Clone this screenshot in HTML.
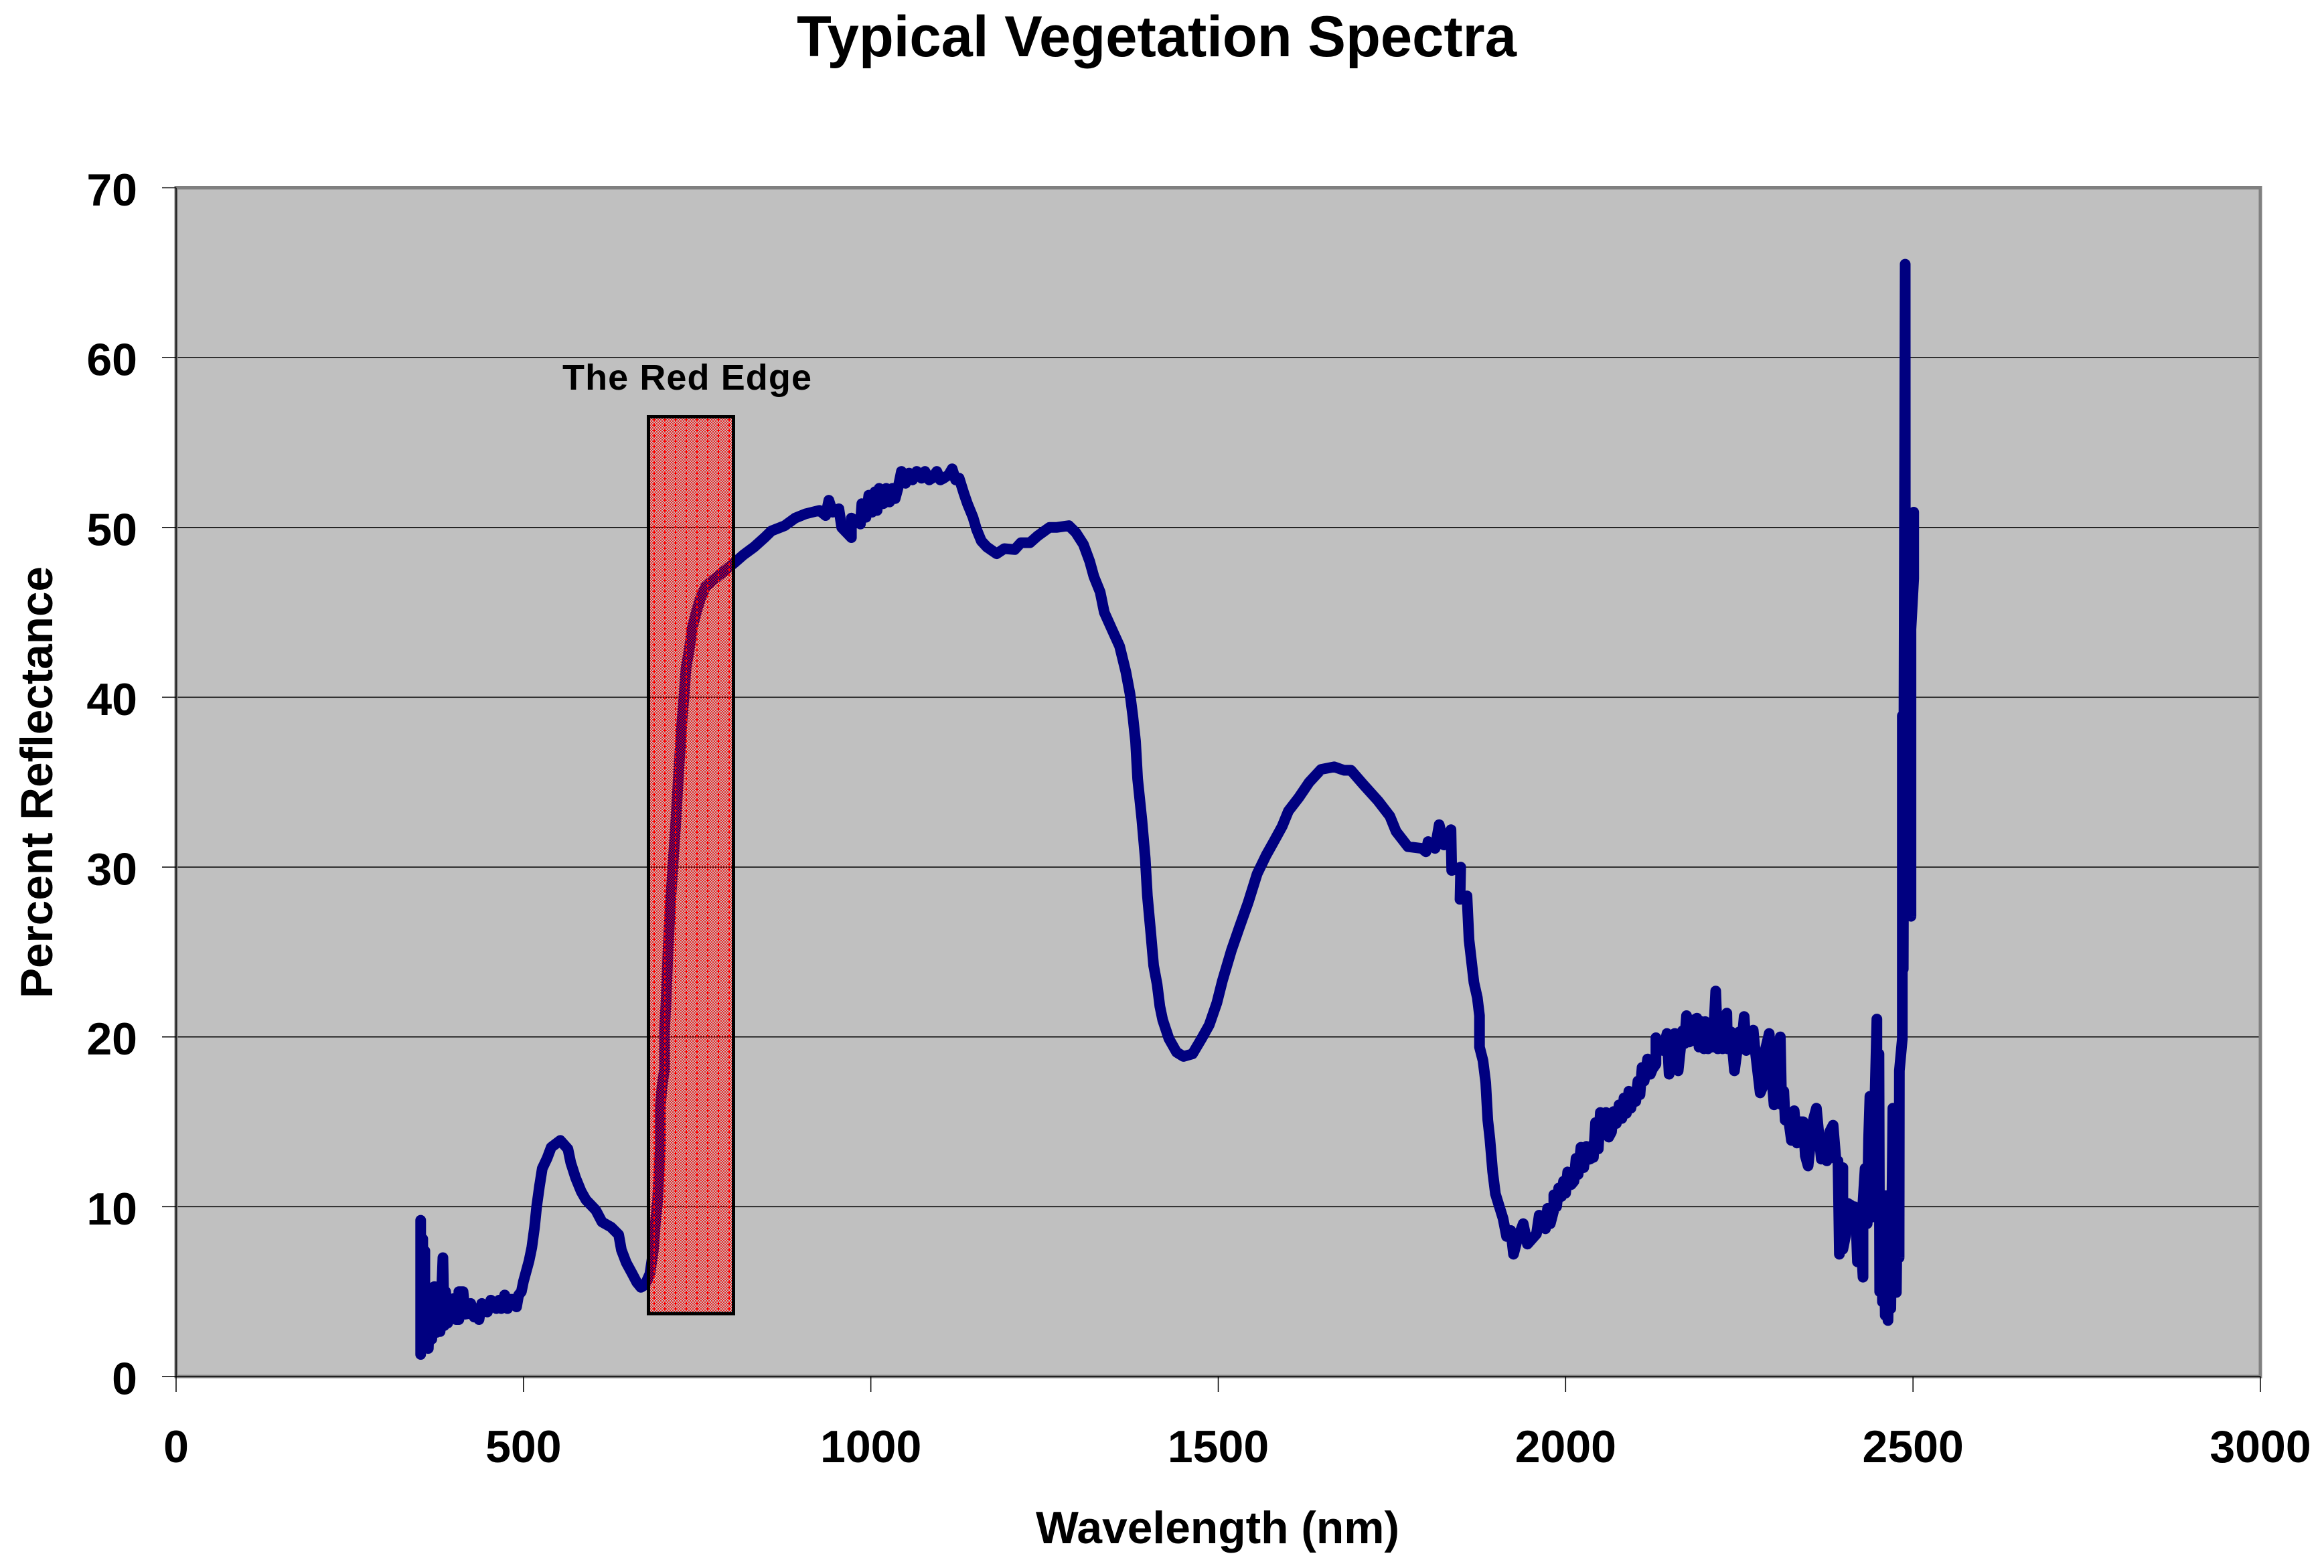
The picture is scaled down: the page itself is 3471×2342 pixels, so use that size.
<!DOCTYPE html>
<html lang="en">
<head>
<meta charset="utf-8">
<title>Typical Vegetation Spectra</title>
<style>
html,body{margin:0;padding:0;background:#fff;}
svg{display:block;}
text{font-family:"Liberation Sans",Arial,sans-serif;font-weight:bold;fill:#000;}
</style>
</head>
<body>
<svg id="chart" xmlns="http://www.w3.org/2000/svg" width="3471" height="2342" viewBox="0 0 3471 2342">
  <defs>
    <pattern id="dither" width="4" height="4" patternUnits="userSpaceOnUse">
      <rect x="0" y="0" width="2" height="2" fill="#ff0000" fill-opacity="0.85"/>
      <rect x="2" y="2" width="2" height="2" fill="#ff0000" fill-opacity="0.85"/>
    </pattern>
    <pattern id="dash-lines" x="970" y="624" width="16" height="8" patternUnits="userSpaceOnUse">
      <rect x="6" y="0" width="2" height="5" fill="#ff0000"/>
    </pattern>
  </defs>
  <rect x="0" y="0" width="3471" height="2342" fill="#ffffff"/>
  <rect id="plot" fill="#c0c0c0"/>
  <g id="grid"></g>
  <rect id="frame" fill="none" stroke="#808080" stroke-width="5"/>
  <g id="axes"></g>
  <polyline id="series" fill="none" stroke="#000080" stroke-width="16" stroke-linejoin="round" stroke-linecap="round"/>
  <rect x="970" y="624" width="124" height="1336" fill="url(#dither)" shape-rendering="crispEdges"/>
  <rect x="970" y="624" width="124" height="1336" fill="url(#dash-lines)" shape-rendering="crispEdges"/>
  <rect x="968.5" y="622.5" width="127" height="1339.5" fill="none" stroke="#000" stroke-width="5"/>
  <text x="840" y="582" font-size="54" textLength="372" lengthAdjust="spacing">The Red Edge</text>
  <text x="1190" y="84" font-size="86" textLength="1075" lengthAdjust="spacingAndGlyphs">Typical Vegetation Spectra</text>
  <text x="1547" y="2305" font-size="68" textLength="543" lengthAdjust="spacingAndGlyphs">Wavelength (nm)</text>
  <text transform="translate(78,1491) rotate(-90)" x="0" y="0" font-size="68" textLength="645" lengthAdjust="spacingAndGlyphs">Percent Reflectance</text>
</svg>
<script>
const xTicks = [0, 500, 1000, 1500, 2000, 2500, 3000];
const yTicks = [0, 10, 20, 30, 40, 50, 60, 70];
const wavelengths = [
352,352,355,355,358,358,361,363,366,368,
372,375,378,380,384,386,388,391,393,396,
400,403,407,407,413,416,420,424,429,432,
436,440,444,448,453,458,461,465,468,473,
477,480,486,490,493,497,500,508,512,516,
519,523,527,534,540,553,564,568,575,583,
590,604,613,626,637,641,648,656,663,669,
675,682,687,690,693,697,697,699.5,703,703,
705,708,711,715,719,724,728,731,734,739,
743,749,755,762,773,788,803,817,832,847,
857,876,891,906,926,935,939.5,945,954,958,
972,972,985,987,993,997,1002,1006,1009,1012,
1018,1022,1027,1031,1035,1039,1044,1050,1055,1060,
1066,1073,1078,1084,1088,1095,1100,1105,1112,1117,
1122,1127,1134,1139,1147,1152,1159,1167,1181,1192,
1207,1216,1229,1240,1257,1267,1285,1295,1306,1315,
1321,1330,1336,1347,1358,1367,1373,1377,1381,1384,
1390,1395,1398,1403,1407,1412,1416,1420,1429,1440,
1450,1463,1476,1487,1498,1506,1519,1530,1543,1556,
1569,1580,1592,1601,1616,1631,1648,1667,1681,1691,
1708,1730,1747,1756,1773,1793,1799,1802,1812,1818,
1825,1835,1836,1849,1848,1858,1861,1868,1873,1876,
1876,1881,1885,1888,1891,1895,1899,1905,1910,1915,
1921,1925,1930,1939,1945,1958,1962,1966,1971,1974,
1978,1983,1983,1987,1990,1994,1997,2000,2003,2008,
2012,2015,2018,2022,2026,2030,2035,2038,2040,2043,
2047,2050,2054,2058,2062,2066,2069,2073,2077,2081,
2084,2087.5,2091,2094,2098,2101,2104,2107,2110,2113,
2118,2122,2125,2130,2130,2140,2146,2149,2157,2162,
2168,2171,2174,2178,2182,2185,2189,2192,2196,2199,
2201,2205,2209,2212,2216,2219,2223,2226,2232,2233,
2238,2243,2248,2250,2253,2257,2260,2263,2270,2272,
2280,2283,2286,2293,2296,2300,2303,2309,2311,2314,
2316,2320,2325,2329,2333,2337,2342,2345,2349,2352,
2357,2361,2364,2368,2371,2376,2380,2385,2389,2392,
2394,2396,2399,2399,2403,2406,2410,2412,2416,2418,
2420,2423,2428,2428,2431,2434,2436,2438,2439,2441,
2445,2448,2448,2451,2452,2455,2456,2458,2460,2461,
2464,2467,2468,2471,2472,2476,2476,2478,2480,2480.4,
2484.6,2484.6,2486,2488.8,2489,2491,2493,2494.5,2497,2497,
2501,2501
];
const reflectance = [
9.2,1.3,8.1,1.8,7.4,1.7,5.3,1.65,5.2,2.2,
5.3,2.6,5.3,2.65,7.0,3.0,5.0,3.15,4.6,3.4,
4.6,3.35,3.35,5.0,5.0,3.67,3.7,4.3,3.5,4.0,
3.35,4.3,4.2,3.8,4.5,4.1,4.0,4.5,4.0,4.8,
4.0,4.55,4.55,4.1,4.8,5.0,5.6,6.8,7.6,8.8,
10.0,11.2,12.25,12.85,13.5,13.9,13.4,12.6,11.7,10.9,
10.4,9.8,9.1,8.8,8.35,7.45,6.7,6.1,5.55,5.25,
5.4,6.05,7.45,9.1,10.3,13.6,15.9,17.1,18.1,20.4,
21.9,25,27.5,30,32.5,36,38.5,40,41.7,42.9,
44.1,45.05,45.85,46.5,46.9,47.4,47.9,48.4,48.85,49.4,
49.8,50.1,50.55,50.8,51.0,50.7,51.6,50.9,51.1,50.0,
49.4,50.55,50.2,51.4,50.6,51.9,50.9,52.1,51,52.3,
51.4,52.3,51.5,52.3,51.7,52.3,53.3,52.6,53.2,52.8,
53.3,52.9,53.3,52.8,52.9,53.3,52.8,52.9,53.1,53.45,
52.8,52.9,52,51.4,50.6,49.9,49.2,48.85,48.45,48.75,
48.7,49.1,49.1,49.5,50,50,50.1,49.7,49,48,
47.1,46.2,45,44,43,41.5,40.2,38.9,37.4,35.2,
32.8,30.5,28.3,26.1,24.2,23.1,21.8,21,19.9,19.1,
18.85,19,19.9,20.7,22,23.3,25.1,26.4,27.9,29.6,
30.7,31.5,32.4,33.3,34.1,35,35.75,35.9,35.7,35.7,
34.9,33.9,33,32.1,31.2,31.1,30.9,31.5,31.1,32.5,
31.3,32.2,29.8,30,28.1,28.3,25.7,23.2,22.3,21.25,
19.4,18.6,17.3,15.1,14,12.05,10.75,9.95,9.3,8.25,
8.6,7.2,8,9,7.8,8.4,9.5,8.8,8.7,9.9,
9.0,9.8,10.7,10.0,11.1,10.6,11.5,10.8,12.05,11.3,
11.5,12.85,11.9,13.5,12.3,13.55,12.8,13.6,12.9,14.95,
13.4,15.55,14.3,15.55,14.1,14.4,15.6,14.9,16,15.2,
16.4,15.5,16.8,15.8,16.7,16.2,17.4,16.6,18.2,17.4,
18.7,17.8,18.1,18.4,19.95,19.2,20.2,17.8,20.2,18,
20.35,19.6,21.25,19.7,19.8,21,21.1,19.4,20.9,19.3,
20.9,19.3,20.4,19.4,22.7,19.3,21,19.3,21.4,19.3,
20.3,18,19.55,20.3,19.4,21.2,19.2,20,20.4,19.5,
16.7,17,19,20.2,18,16,17.5,20,16,16.8,
15.1,15.4,13.9,15.65,13.75,15,15,13,12.4,13.6,
15.2,15.8,14.5,12.8,14,12.7,14.4,14.8,12.8,12.7,
7.2,12.3,12.3,7.5,8.3,10.2,10.1,8.8,10,9,
6.75,9.5,5.85,10.3,12.25,9,14,16.5,9.35,14,
16,21.05,9.8,19,5,10,4.4,10,3.6,10.65,
3.3,10.5,4,15.8,5,8,4.95,12,7,18,
19.9,38.9,24,65.5,28,46,27.3,44,27.1,44,
47,50.9
];

const xMax = 3000;
const yMax = 70;
const plotLeft = 263;
const plotRight = 3376;
const plotTop = 280.5;
const plotBottom = 2056;

function xScale(v) {
  return plotLeft + (v / xMax) * (plotRight - plotLeft);
}
function yScale(v) {
  return plotBottom - (v / yMax) * (plotBottom - plotTop);
}

const NS = 'http://www.w3.org/2000/svg';
function makeLine(parent, x1, y1, x2, y2, w) {
  const el = document.createElementNS(NS, 'line');
  el.setAttribute('x1', x1);
  el.setAttribute('y1', y1);
  el.setAttribute('x2', x2);
  el.setAttribute('y2', y2);
  el.setAttribute('stroke', '#000');
  el.setAttribute('stroke-width', w);
  parent.appendChild(el);
  return el;
}

const plot = document.getElementById('plot');
const frame = document.getElementById('frame');
[plot, frame].forEach(function (r) {
  r.setAttribute('x', plotLeft);
  r.setAttribute('y', plotTop);
  r.setAttribute('width', plotRight - plotLeft);
  r.setAttribute('height', plotBottom - plotTop);
});

const grid = document.getElementById('grid');
const axes = document.getElementById('axes');

yTicks.forEach(function (t) {
  const y = yScale(t);
  if (t > 0 && t < yMax) {
    const g = makeLine(grid, plotLeft, y, plotRight, y, 1.5);
    
    
  }
  const tick = makeLine(axes, 242, y, plotLeft, y, 1.5);
  
  
  const label = document.createElementNS(NS, 'text');
  label.setAttribute('x', 205);
  label.setAttribute('y', y + 26.5);
  label.setAttribute('font-size', 68);
  label.setAttribute('text-anchor', 'end');
  label.textContent = String(t);
  
  
  axes.appendChild(label);
});

xTicks.forEach(function (t) {
  const x = xScale(t);
  const tick = makeLine(axes, x, plotBottom, x, plotBottom + 23, 1.5);
  
  
  const label = document.createElementNS(NS, 'text');
  label.setAttribute('x', x);
  label.setAttribute('y', 2184);
  label.setAttribute('font-size', 68);
  label.setAttribute('text-anchor', 'middle');
  label.textContent = String(t);
  
  
  axes.appendChild(label);
});

const yAxisLine = makeLine(axes, plotLeft, plotTop, plotLeft, plotBottom, 1.5);


const xAxisLine = makeLine(axes, plotLeft, plotBottom, plotRight, plotBottom, 1.5);



const pts = wavelengths.map(function (w, i) {
  return xScale(w).toFixed(1) + ',' + yScale(reflectance[i]).toFixed(1);
});
document.getElementById('series').setAttribute('points', pts.join(' '));
</script>
</body>
</html>
